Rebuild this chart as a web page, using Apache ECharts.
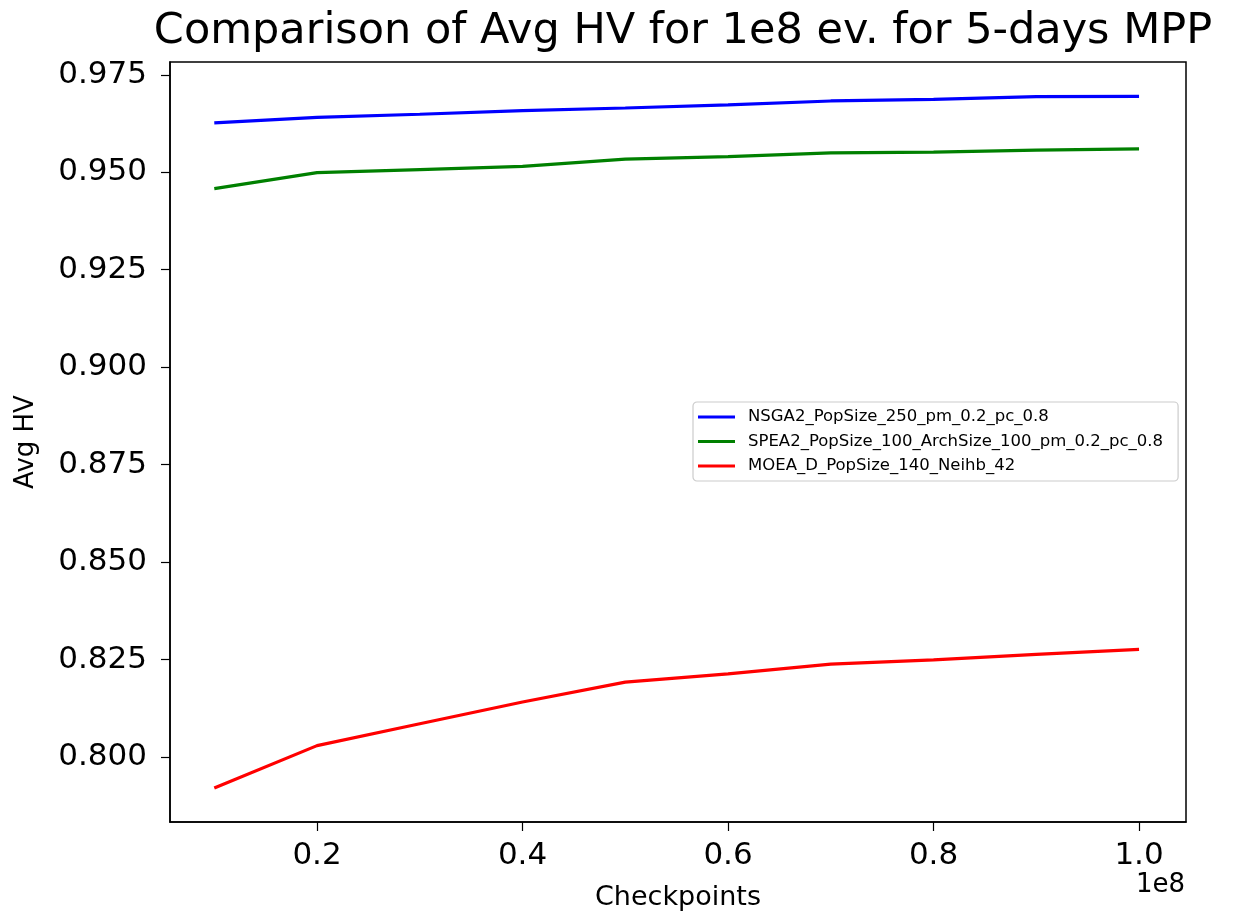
<!DOCTYPE html>
<html>
<head>
<meta charset="utf-8">
<script src="https://cdn.jsdelivr.net/npm/echarts@6/dist/echarts.min.js"></script>
<style>
  html, body { margin: 0; padding: 0; background: #fff; }
  #chart { width: 1241px; height: 916px; }
</style>
</head>
<body>
<div id="chart"></div>
<script>
// checkpoints (evaluations)
const checkpoints = [1e7, 2e7, 3e7, 4e7, 5e7, 6e7, 7e7, 8e7, 9e7, 1e8]

const nsga2 = [0.9627, 0.9641, 0.9649, 0.9658, 0.9665, 0.9673, 0.9683, 0.9687, 0.9694, 0.9695]
const spea2 = [0.9458, 0.9499, 0.9507, 0.9515, 0.9534, 0.9540, 0.9550, 0.9552, 0.9557, 0.9560]
const moead = [0.7920, 0.8029, 0.8085, 0.8141, 0.8192, 0.8213, 0.8238, 0.8249, 0.8263, 0.8276]

const xTicks = [0.2e8, 0.4e8, 0.6e8, 0.8e8, 1.0e8]
const yTicks = [0.800, 0.825, 0.850, 0.875, 0.900, 0.925, 0.950, 0.975]

const seriesNames = [
  'NSGA2_PopSize_250_pm_0.2_pc_0.8',
  'SPEA2_PopSize_100_ArchSize_100_pm_0.2_pc_0.8',
  'MOEA_D_PopSize_140_Neihb_42'
]
const seriesColors = ['#0000ff', '#008000', '#ff0000']
const seriesData = [nsga2, spea2, moead]

const font = 'DejaVu Sans'
const chart = echarts.init(document.getElementById('chart'))

const option = {
  backgroundColor: '#fff',
  animation: false,
  title: {
    text: 'Comparison of Avg HV for 1e8 ev. for 5-days MPP',
    left: 678,
    textAlign: 'center',
    top: 5,
    textStyle: { fontFamily: font, fontSize: 43, fontWeight: 'normal', color: '#000' }
  },
  grid: {
    left: 170, right: 55, top: 62, bottom: 94,
    show: true, borderColor: '#000', borderWidth: 1.5, backgroundColor: '#fff'
  },
  legend: {
    orient: 'vertical',
    left: 693, top: 402,
    icon: 'rect',
    itemWidth: 37, itemHeight: 3, itemGap: 6.5,
    padding: [6, 15, 6, 5],
    borderColor: '#cccccc', borderWidth: 1.2, borderRadius: 4,
    backgroundColor: '#fff',
    textStyle: { fontFamily: font, fontSize: 16.5, lineHeight: 18, color: '#000', padding: [0, 0, 0, 8] },
    data: seriesNames
  },
  xAxis: {
    type: 'value',
    min: 0.0569e8, max: 1.0457e8,
    name: 'Checkpoints', nameLocation: 'middle', nameGap: 62,
    nameTextStyle: { fontFamily: font, fontSize: 27, color: '#000' },
    axisLine: { show: true, lineStyle: { color: '#000', width: 1.5 } },
    axisTick: { show: true, inside: false, length: 9, customValues: xTicks, lineStyle: { color: '#000', width: 1.2 } },
    axisLabel: {
      customValues: xTicks, margin: 18,
      fontFamily: font, fontSize: 31, color: '#000',
      formatter: v => (v / 1e8).toFixed(1)
    },
    splitLine: { show: false }
  },
  yAxis: {
    type: 'value',
    min: 0.7833, max: 0.9783,
    name: 'Avg HV', nameLocation: 'middle', nameGap: 131, nameRotate: 90,
    nameTextStyle: { fontFamily: font, fontSize: 26, color: '#000' },
    axisLine: { show: true, lineStyle: { color: '#000', width: 1.5 } },
    axisTick: { show: true, inside: false, length: 9, customValues: yTicks, lineStyle: { color: '#000', width: 1.2 } },
    axisLabel: {
      customValues: yTicks, margin: 23,
      fontFamily: font, fontSize: 31, color: '#000',
      formatter: v => v.toFixed(3)
    },
    splitLine: { show: false }
  },
  graphic: [{
    type: 'text', right: 56, top: 872,
    style: { text: '1e8', fontFamily: font, fontSize: 26, fill: '#000' }
  }],
  series: seriesNames.map((name, i) => ({
    name,
    type: 'line',
    symbol: 'none',
    color: seriesColors[i],
    lineStyle: { width: 3.2, color: seriesColors[i] },
    data: checkpoints.map((x, j) => [x, seriesData[i][j]])
  }))
}

chart.setOption(option)
</script>
</body>
</html>
